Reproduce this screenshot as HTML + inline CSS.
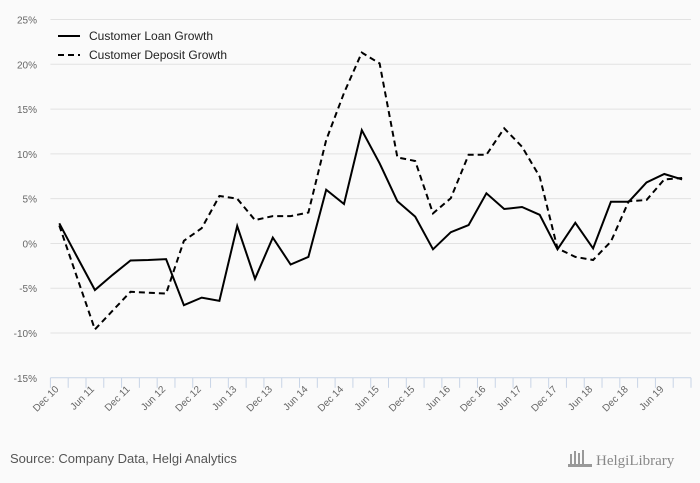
<!DOCTYPE html>
<html><head><meta charset="utf-8"><style>
body{margin:0;background:#fafafa;font-family:"Liberation Sans",sans-serif}
svg{display:block}
</style></head><body>
<svg id="chart" width="700" height="483" xmlns="http://www.w3.org/2000/svg">
<rect width="700" height="483" fill="#fafafa"/>
<g id="grid"></g><g id="xaxis"></g><g id="series"></g>
<g>
<line x1="58" y1="36" x2="80" y2="36" stroke="#000" stroke-width="2"/>
<text x="89" y="40" font-size="12" fill="#222">Customer Loan Growth</text>
<line x1="58" y1="55" x2="80" y2="55" stroke="#000" stroke-width="2" stroke-dasharray="6,4"/>
<text x="89" y="59" font-size="12" fill="#222">Customer Deposit Growth</text>
</g>
<text x="10" y="463" font-size="13" fill="#555">Source: Company Data, Helgi Analytics</text>
<g>
<g fill="#999"><rect x="570" y="454" width="2" height="10"/><rect x="574" y="451" width="2" height="13"/><rect x="578" y="453" width="2" height="11"/><rect x="582" y="450" width="2" height="14"/><rect x="568" y="464" width="24" height="3"/></g>
<text x="596" y="465" font-size="15" fill="#888" font-family="Liberation Serif,serif">HelgiLibrary</text>
</g>
</svg>
<script>
const categories=["Dec 10","Mar 11","Jun 11","Sep 11","Dec 11","Mar 12","Jun 12","Sep 12","Dec 12","Mar 13","Jun 13","Sep 13","Dec 13","Mar 14","Jun 14","Sep 14","Dec 14","Mar 15","Jun 15","Sep 15","Dec 15","Mar 16","Jun 16","Sep 16","Dec 16","Mar 17","Jun 17","Sep 17","Dec 17","Mar 18","Jun 18","Sep 18","Dec 18","Mar 19","Jun 19","Sep 19"];
const loanGrowth=[2.25,-1.5,-5.2,-3.5,-1.9,-1.85,-1.75,-6.9,-6.05,-6.4,1.95,-3.95,0.65,-2.35,-1.5,6.0,4.4,12.65,8.95,4.7,3.0,-0.65,1.25,2.05,5.6,3.85,4.07,3.2,-0.65,2.3,-0.55,4.65,4.65,6.8,7.75,7.15];
const depositGrowth=[2.0,-3.8,-9.6,-7.5,-5.4,-5.5,-5.6,0.3,1.7,5.3,5.0,2.6,3.05,3.05,3.45,11.55,16.8,21.3,20.1,9.6,9.2,3.35,5.05,9.9,9.9,12.85,10.8,7.45,-0.55,-1.5,-1.85,0.2,4.7,4.85,7.15,7.3];
const yTicks=[-15,-10,-5,0,5,10,15,20,25];
const NS="http://www.w3.org/2000/svg";
const x0=50.4,x1=691,yMin=-15,yMax=25,yTop=19.5,yBot=377.8;
const bw=(x1-x0)/categories.length;
function xs(i){return x0+bw*(i+0.5);}
function ys(v){return yBot-(v-yMin)/(yMax-yMin)*(yBot-yTop);}
function mk(tag,attrs,parent){const e=document.createElementNS(NS,tag);for(const k in attrs)e.setAttribute(k,attrs[k]);parent.appendChild(e);return e;}
const grid=document.getElementById('grid'),xa=document.getElementById('xaxis'),se=document.getElementById('series');
yTicks.forEach(t=>{
  const y=ys(t);
  if(t!==yMin){const l=mk('line',{x1:x0,x2:x1,y1:y,y2:y,stroke:'#e2e2e2','stroke-width':1},grid);
  
  }
  const tx=mk('text',{x:37,y:y+4,'font-size':10,fill:'#666','text-anchor':'end'},grid);
  tx.textContent=t+'%';
  
  
});
const ax=mk('line',{x1:x0,x2:x1,y1:yBot,y2:yBot,stroke:'#c8d4e6','stroke-width':1},xa);


for(let i=0;i<=categories.length;i++){
  const x=x0+bw*i;
  const tk=mk('line',{x1:x,x2:x,y1:yBot,y2:yBot+10,stroke:'#c8d4e6','stroke-width':1},xa);
  
  
}
categories.forEach((c,i)=>{
  if(i%2)return;
  const x=xs(i),y=yBot+12;
  const t=mk('text',{x:x,y:y,'font-size':10,fill:'#666','text-anchor':'end',transform:`rotate(-45 ${x} ${y})`},xa);
  t.textContent=c;
  
  
});
function line(vals,dash,name){
  const p=mk('polyline',{points:vals.map((v,i)=>xs(i).toFixed(1)+','+ys(v).toFixed(1)).join(' '),fill:'none',stroke:'#000','stroke-width':2,'stroke-linejoin':'miter'},se);
  if(dash)p.setAttribute('stroke-dasharray','6,4');
  
  
}
line(loanGrowth,false,'loan-growth-line');
line(depositGrowth,true,'deposit-growth-line');
</script>
</body></html>
